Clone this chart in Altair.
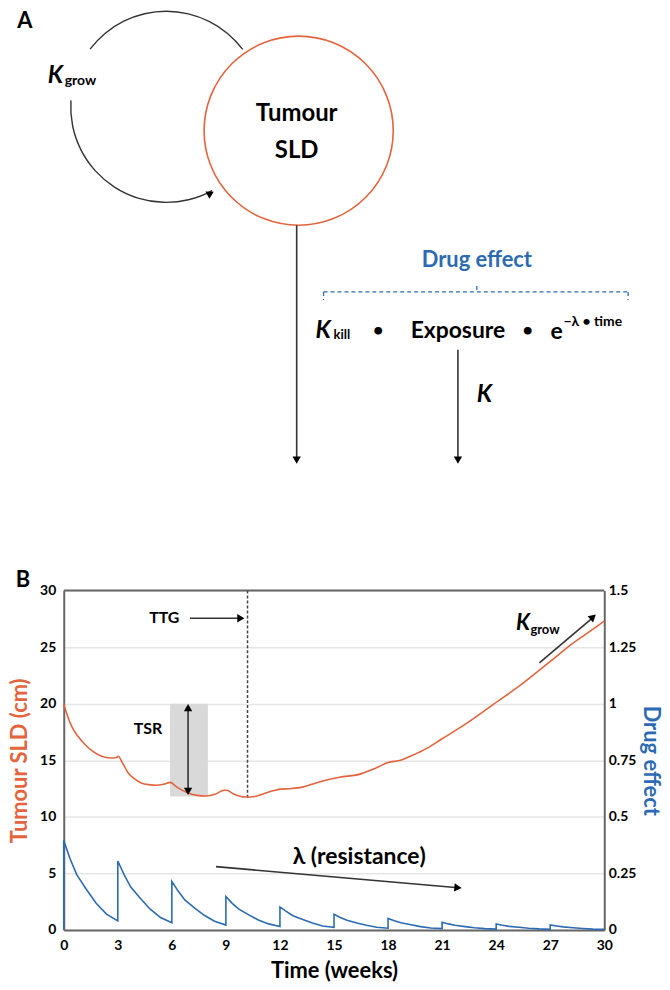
import altair as alt
import pandas as pd

ORANGE = "#E4643D"
BLUE = "#2C6BB3"
DARK = "#333333"
AXC = "#666666"
FONT = "Lato"

# ---------------- Panel B data ----------------
sld_t = [0, 0.15, 0.44, 0.8, 1.18, 1.6, 2.1, 2.6, 2.93, 3.02, 3.25, 3.57, 3.9, 4.3, 4.7,
         5.2, 5.6, 5.9, 6.3, 6.9, 7.4, 7.9, 8.4, 8.9, 9.05, 9.4, 10.1, 10.6, 11.1, 11.6,
         12.0, 12.6, 13.3, 14.0, 14.7, 15.3, 16.5, 17.3, 18.0, 18.7, 19.3, 20.2, 21.0,
         22.4, 23.9, 25.4, 26.9, 28.3, 29.3, 30]
sld_v = [20, 19.2, 18.0, 17.1, 16.4, 15.8, 15.35, 15.2, 15.25, 15.35, 14.8, 13.9, 13.4, 13.0, 12.85,
         12.8, 12.9, 13.05, 12.6, 12.1, 11.9, 11.85, 12.0, 12.35, 12.35, 12.05, 11.75, 11.8, 12.05, 12.3,
         12.45, 12.5, 12.65, 13.0, 13.3, 13.5, 13.8, 14.3, 14.8, 15.0, 15.4, 16.1, 16.9,
         18.3, 20.0, 21.7, 23.6, 25.4, 26.5, 27.3]

drug_t = [0, 0, 0.35, 0.72, 1.27, 1.8, 2.37, 3,
          3, 3.35, 3.72, 4.27, 4.8, 5.37, 6,
          6, 6.35, 6.72, 7.27, 7.8, 8.37, 9,
          9, 9.35, 9.72, 10.27, 10.8, 11.37, 12,
          12, 12.35, 12.72, 13.27, 13.8, 14.37, 15,
          15, 15.35, 15.72, 16.27, 16.8, 17.37, 18,
          18, 18.35, 18.72, 19.27, 19.8, 20.37, 21,
          21, 21.35, 21.72, 22.27, 22.8, 23.37, 24,
          24, 24.35, 24.72, 25.27, 25.8, 26.37, 27,
          27, 27.35, 27.72, 28.27, 28.8, 29.37, 30]
drug_v = [0, 0.395, 0.315, 0.245, 0.178, 0.118, 0.07, 0.04,
          0.305, 0.245, 0.19, 0.138, 0.092, 0.055, 0.032,
          0.215, 0.172, 0.133, 0.097, 0.065, 0.039, 0.022,
          0.148, 0.118, 0.092, 0.067, 0.044, 0.027, 0.015,
          0.102, 0.082, 0.063, 0.046, 0.031, 0.018, 0.012,
          0.069, 0.055, 0.043, 0.031, 0.021, 0.012, 0.008,
          0.051, 0.041, 0.032, 0.023, 0.015, 0.009, 0.006,
          0.034, 0.027, 0.021, 0.015, 0.010, 0.006, 0.004,
          0.027, 0.021, 0.016, 0.012, 0.008, 0.005, 0.003,
          0.022, 0.018, 0.014, 0.010, 0.007, 0.004, 0.003]

x_ticks = [0, 3, 6, 9, 12, 15, 18, 21, 24, 27, 30]
left_ticks = [0, 5, 10, 15, 20, 25, 30]
right_ticks = [0, 0.25, 0.5, 0.75, 1, 1.25, 1.5]

# annotations (data coordinates)
tsr_box = dict(t=[5.9], t2=[8.0], v=[11.8], v2=[20.0])
b_rules_t = [6.9, 7.0, 8.45, 26.4]
b_rules_t2 = [6.9, 9.8, 21.9, 29.4]
b_rules_v = [12.3, 27.55, 5.6, 23.6]
b_rules_v2 = [19.6, 27.55, 3.74, 27.65]
ttg_line = dict(t=[10.2], v=[11.7], v2=[30])
b_heads_t = [6.9, 6.9, 9.83, 21.88, 29.38]
b_heads_v = [19.65, 12.25, 27.55, 3.74, 27.67]
b_heads_shape = ["triangle-up", "triangle-down", "triangle-right", "triangle-right", "triangle-up"]
b_heads_angle = [0, 0, 0, 5, 49]
b_text = ["TSR", "TTG", "λ (resistance)"]
b_text_t = [4.68, 5.58, 16.4]
b_text_v = [17.8, 27.55, 6.45]
b_text_fs = [16, 16, 23]

# ---------------- Panel A data (diagram coordinates, same units as the page) ----------------
node_x, node_y, node_d = [298], [127], [190]
loop_cx, loop_cy = [165, 165], [103, 103]
loop_th1, loop_th2 = [5.36, 2.64], [7.21, 4.78]
a_rules_x = [296, 458]
a_rules_y = [222, 347]
a_rules_y2 = [459, 459]
a_heads_x = [296, 458, 209.5]
a_heads_y = [458, 458, 190]
a_heads_shape = ["triangle-down", "triangle-down", "triangle-up"]
a_heads_angle = [0, 0, 61]
br_x = [323, 323, 629, 477]
br_x2 = [629, 323, 629, 477]
br_y = [289, 289, 289, 283]
br_y2 = [289, 297, 297, 289]
a_ctext = ["A", "Tumour", "SLD", "Drug effect", "•", "Exposure", "•", "B"]
a_ctext_x = [23, 296, 296, 477, 378, 458, 528, 21]
a_ctext_y = [17, 110, 147, 257, 328, 328, 328, 578]
a_ctext_fs = [22, 24, 24, 22, 18, 23, 18, 22]
a_ctext_col = ["black", "black", "black", BLUE, "black", "black", "black", "black"]
a_ltext = ["grow", "kill", "e", "−λ • time"]
a_ltext_x = [63, 333, 551, 564]
a_ltext_y = [77, 332, 329, 319]
a_ltext_fs = [14, 13, 23, 14]
a_ktext_x = [46, 315, 477]
a_ktext_y = [72, 328, 393]

# ---------------- Panel A (drawn above the plot area, on its own scales) ----------------
ax_scale = alt.Scale(domain=[62, 605], nice=False, zero=False)
ay_scale = alt.Scale(domain=[589, 930], nice=False, zero=False, reverse=True)


def ax(f="x"):
    return alt.X(f"{f}:Q", scale=ax_scale, axis=None)


def ay(f="y"):
    return alt.Y(f"{f}:Q", scale=ay_scale, axis=None)


node = alt.Chart(pd.DataFrame({"x": node_x, "y": node_y, "d": node_d})).transform_calculate(
    s="datum.d*datum.d").mark_point(shape="circle", filled=False, color=ORANGE, strokeWidth=1.6, opacity=1).encode(
    x=ax(), y=ay(), size=alt.Size("s:Q", scale=None, legend=None))

loop = alt.Chart(pd.DataFrame({"x": loop_cx, "y": loop_cy, "th1": loop_th1, "th2": loop_th2})).mark_arc(
    color=DARK, radius=96.7, radius2=95.3).encode(
    x=ax(), y=ay(), theta=alt.Theta("th1:Q", scale=None), theta2="th2:Q")

a_rules = alt.Chart(pd.DataFrame({"x": a_rules_x, "y": a_rules_y, "y2": a_rules_y2})).mark_rule(
    color=DARK, strokeWidth=1.6).encode(x=ax(), y=ay(), y2="y2:Q")

a_heads = alt.Chart(pd.DataFrame({"x": a_heads_x, "y": a_heads_y, "shape": a_heads_shape, "ang": a_heads_angle})).mark_point(
    filled=True, color="black", size=70, opacity=1).encode(
    x=ax(), y=ay(), shape=alt.Shape("shape:N", scale=None, legend=None), angle=alt.Angle("ang:Q", scale=None))

bracket = alt.Chart(pd.DataFrame({"x": br_x, "x2": br_x2, "y": br_y, "y2": br_y2})).mark_rule(
    color=BLUE, strokeWidth=1.3, strokeDash=[4, 3]).encode(x=ax(), x2="x2:Q", y=ay(), y2="y2:Q")

a_ct = alt.Chart(pd.DataFrame({"x": a_ctext_x, "y": a_ctext_y, "t": a_ctext, "fs": a_ctext_fs, "c": a_ctext_col})).mark_text(
    font=FONT, fontWeight="bold", align="center", baseline="middle").encode(
    x=ax(), y=ay(), text="t:N", size=alt.Size("fs:Q", scale=None, legend=None),
    color=alt.Color("c:N", scale=None, legend=None))

a_lt = alt.Chart(pd.DataFrame({"x": a_ltext_x, "y": a_ltext_y, "t": a_ltext, "fs": a_ltext_fs})).mark_text(
    font=FONT, fontWeight="bold", align="left", baseline="middle", color="black").encode(
    x=ax(), y=ay(), text="t:N", size=alt.Size("fs:Q", scale=None, legend=None))

a_kt = alt.Chart(pd.DataFrame({"x": a_ktext_x, "y": a_ktext_y, "t": ["K"] * 3})).mark_text(
    font=FONT, fontWeight="bold", fontStyle="italic", align="left", baseline="middle", color="black", fontSize=24).encode(
    x=ax(), y=ay(), text="t:N")

panelA = alt.layer(loop, node, a_rules, a_heads, bracket, a_ct, a_lt, a_kt)

# ---------------- Panel B ----------------
xs = alt.Scale(domain=[0, 30], nice=False, zero=False)
ys = alt.Scale(domain=[0, 30], nice=False, zero=False)

x_axis = alt.Axis(values=x_ticks, title="Time (weeks)", titleFont=FONT, titleFontSize=22, titleFontWeight="bold",
                  titleColor="black", titlePadding=8, labelFont=FONT, labelFontSize=14, labelFontWeight="bold",
                  labelColor="black", labelPadding=9, ticks=False, grid=False, domainColor=AXC, domainWidth=2,
                  labelFlush=False)
y_axis = alt.Axis(values=left_ticks, title="Tumour SLD (cm)", titleFont=FONT, titleFontSize=22, titleFontWeight="bold",
                  titleColor=ORANGE, titlePadding=8, labelFont=FONT, labelFontSize=14, labelFontWeight="bold",
                  labelColor="black", labelPadding=8, ticks=False, grid=True, gridColor="#E6E6E6", gridWidth=1.5,
                  domainColor=AXC, domainWidth=2, labelFlush=False)
r_axis = alt.Axis(values=right_ticks, orient="right", format=".2~f", title="Drug effect", titleFont=FONT,
                  titleFontSize=22, titleFontWeight="bold", titleColor=BLUE, titlePadding=3, labelFont=FONT,
                  labelFontSize=14, labelFontWeight="bold", labelColor="black", labelPadding=4, ticks=False,
                  grid=False, domainColor=AXC, domainWidth=2, labelFlush=False)

sld_df = pd.DataFrame({"t": sld_t, "v": sld_v})
drug_df = pd.DataFrame({"t": drug_t, "d": drug_v, "i": list(range(len(drug_t)))})

box = alt.Chart(pd.DataFrame(tsr_box)).mark_rect(color="#D9D9D9").encode(
    x=alt.X("t:Q", scale=xs, axis=x_axis), x2="t2:Q",
    y=alt.Y("v:Q", scale=ys, axis=y_axis), y2="v2:Q")

top_border = alt.Chart(pd.DataFrame({"t": [0], "t2": [30], "v": [30]})).mark_rule(color=AXC, strokeWidth=2).encode(
    x=alt.X("t:Q", scale=xs), x2="t2:Q", y=alt.Y("v:Q", scale=ys))

sld_line = alt.Chart(sld_df).mark_line(color=ORANGE, strokeWidth=1.6, interpolate="monotone").encode(
    x=alt.X("t:Q", scale=xs), y=alt.Y("v:Q", scale=ys))

ttg = alt.Chart(pd.DataFrame(ttg_line)).mark_rule(color="#444444", strokeWidth=1.5, strokeDash=[3, 2]).encode(
    x=alt.X("t:Q", scale=xs), y=alt.Y("v:Q", scale=ys), y2="v2:Q")

b_rules = alt.Chart(pd.DataFrame({"t": b_rules_t, "t2": b_rules_t2, "v": b_rules_v, "v2": b_rules_v2})).mark_rule(
    color=DARK, strokeWidth=1.6).encode(x=alt.X("t:Q", scale=xs), x2="t2:Q", y=alt.Y("v:Q", scale=ys), y2="v2:Q")

b_heads = alt.Chart(pd.DataFrame({"t": b_heads_t, "v": b_heads_v, "shape": b_heads_shape, "ang": b_heads_angle})).mark_point(
    filled=True, color="black", size=70, opacity=1).encode(
    x=alt.X("t:Q", scale=xs), y=alt.Y("v:Q", scale=ys),
    shape=alt.Shape("shape:N", scale=None, legend=None), angle=alt.Angle("ang:Q", scale=None))

b_txt = alt.Chart(pd.DataFrame({"t": b_text_t, "v": b_text_v, "s": b_text, "fs": b_text_fs})).mark_text(
    font=FONT, fontWeight="bold", align="center", baseline="middle", color="black").encode(
    x=alt.X("t:Q", scale=xs), y=alt.Y("v:Q", scale=ys), text="s:N", size=alt.Size("fs:Q", scale=None, legend=None))

kg_k = alt.Chart(pd.DataFrame({"t": [25.1], "v": [27.1], "s": ["K"]})).mark_text(
    font=FONT, fontWeight="bold", fontStyle="italic", align="left", baseline="middle", color="black", fontSize=22).encode(
    x=alt.X("t:Q", scale=xs), y=alt.Y("v:Q", scale=ys), text="s:N")
kg_sub = alt.Chart(pd.DataFrame({"t": [25.9], "v": [26.55], "s": ["grow"]})).mark_text(
    font=FONT, fontWeight="bold", align="left", baseline="middle", color="black", fontSize=13).encode(
    x=alt.X("t:Q", scale=xs), y=alt.Y("v:Q", scale=ys), text="s:N")

left_layers = alt.layer(box, top_border, ttg, sld_line, b_rules, b_heads, b_txt, kg_k, kg_sub)

drug_line = alt.Chart(drug_df).mark_line(color=BLUE, strokeWidth=1.6).encode(
    x=alt.X("t:Q", scale=xs), y=alt.Y("d:Q", scale=alt.Scale(domain=[0, 1.5], nice=False, zero=False), axis=r_axis),
    order="i:Q")

panelB = alt.layer(left_layers, drug_line).resolve_scale(y="independent")

chart = alt.layer(panelB, panelA).resolve_scale(x="independent", y="independent").properties(
    width=543, height=341, padding=0).configure_view(stroke=None)

chart.save("out.html", embed_options={"renderer": "svg", "actions": False})
